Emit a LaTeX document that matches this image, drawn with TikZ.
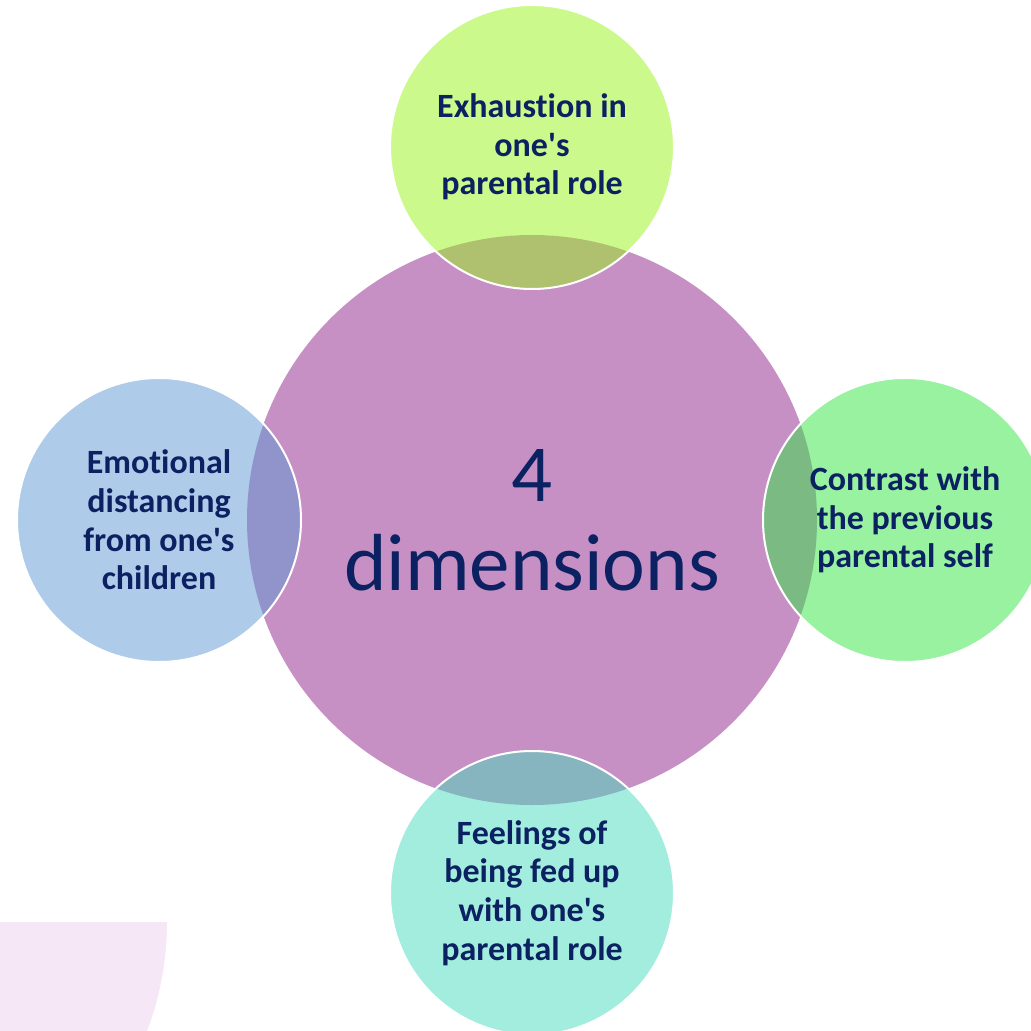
\documentclass[tikz,border=0pt]{standalone}
\usepackage{fontspec}
\setmainfont{Carlito}[Ligatures=NoCommon]
\usepackage{tikz}
\usetikzlibrary{positioning}

\definecolor{hubpurple}{HTML}{C690C4}
\definecolor{limefill}{HTML}{99F319}
\definecolor{greenfill}{HTML}{31E541}
\definecolor{bluefill}{HTML}{5D97D3}
\definecolor{tealfill}{HTML}{47DBBD}
\definecolor{paleorchid}{HTML}{F6E7F6}
\definecolor{navytext}{HTML}{0B2161}

\begin{document}
\begin{tikzpicture}[x=0.5pt, y=-0.5pt,
        hub/.style={circle, fill=hubpurple, minimum size=285pt, inner sep=0pt, outer sep=0pt,
            text=navytext, align=center, font=\fontsize{40.5}{44.5}\selectfont},
        dimension/.style={circle, draw=white, line width=1pt, fill opacity=0.5, text opacity=1,
            minimum size=142pt, inner sep=0pt, outer sep=0pt, text=navytext, align=center,
            font=\bfseries\fontsize{17}{19.3}\selectfont}]
            \useasboundingbox (0,0) rectangle (1030,1031);
            % pale corner shape at the bottom left
            \begin{scope}
                \clip (0,922) rectangle (400,1031);
                \fill[paleorchid] (-140,922) circle (307);
            \end{scope}
            \node[hub] (dims) at (532,520) {4\\dimensions};
            \node[dimension, fill=limefill] (exhaustion) [above = -27pt of dims] {Exhaustion in\\one\textquotesingle s\\parental role};
            \node[dimension, fill=greenfill] (contrast) [right = -27pt of dims] {Contrast with\\the previous\\parental self};
            \node[dimension, fill=tealfill] (fedup) [below = -27pt of dims] {Feelings of\\being fed up\\with one\textquotesingle s\\parental role};
            \node[dimension, fill=bluefill] (distancing) [left = -27pt of dims] {Emotional\\distancing\\from one\textquotesingle s\\children};
        \end{tikzpicture}
\end{document}
